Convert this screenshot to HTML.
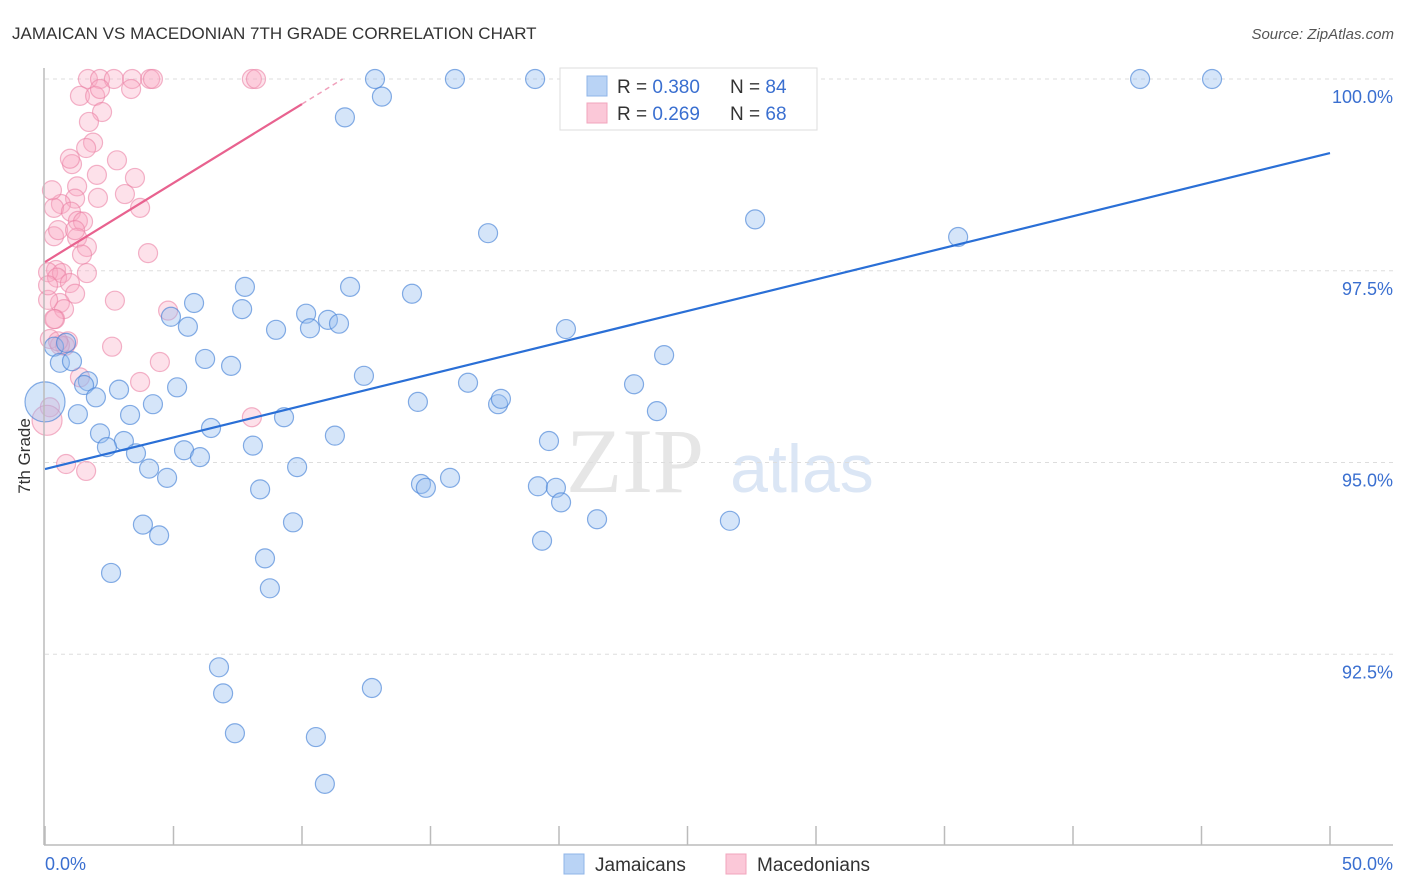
<!DOCTYPE html>
<html><head><meta charset="utf-8"><style>
body{margin:0;background:#fff;font-family:"Liberation Sans",sans-serif}
svg{display:block}
</style></head><body>
<svg id="c" width="1406" height="892">
<text x="12" y="39" font-size="17" fill="#333">JAMAICAN VS MACEDONIAN 7TH GRADE CORRELATION CHART</text>
<text x="1394" y="39" font-size="15" fill="#555" font-style="italic" text-anchor="end">Source: ZipAtlas.com</text>
<text x="30" y="456" font-size="17" fill="#333" text-anchor="middle" transform="rotate(-90 30 456)">7th Grade</text>
<text x="635" y="492" font-size="92" fill="#e6e6e6" font-family="Liberation Serif" text-anchor="middle">ZIP</text>
<text x="802" y="492" font-size="68" fill="#dbe6f5" text-anchor="middle">atlas</text>
<g id="grid"></g><g id="marks"></g><g id="axes"></g>
<g>
<rect x="560" y="68" width="257" height="62" fill="#fff" stroke="#ddd"/>
<rect x="587" y="76" width="20" height="20" fill="#b9d3f5" stroke="#8fb5e8"/>
<rect x="587" y="103" width="20" height="20" fill="#fbc8d8" stroke="#f2a5bd"/>
<text x="617" y="93" font-size="19" fill="#333">R = <tspan fill="#3a6fd0">0.380</tspan></text>
<text x="730" y="93" font-size="19" fill="#333">N = <tspan fill="#3a6fd0">84</tspan></text>
<text x="617" y="120" font-size="19" fill="#333">R = <tspan fill="#3a6fd0">0.269</tspan></text>
<text x="730" y="120" font-size="19" fill="#333">N = <tspan fill="#3a6fd0">68</tspan></text>
</g>
<g><rect x="564" y="854" width="20" height="20" fill="#b9d3f5" stroke="#8fb5e8"/><text x="595" y="871" font-size="19" fill="#333">Jamaicans</text></g>
<g><rect x="726" y="854" width="20" height="20" fill="#fbc8d8" stroke="#f2a5bd"/><text x="757" y="871" font-size="19" fill="#333">Macedonians</text></g>
</svg>
<script>
const blueX=[12.84,15.95,19.07,26.54,28.60,42.61,45.41,13.11,11.67,17.24,27.63,35.53,7.78,11.87,14.28,5.80,7.67,4.90,10.16,11.01,11.44,5.56,8.99,10.31,20.27,0.35,0.82,0.58,1.05,6.23,7.24,24.09,12.41,1.67,1.52,2.88,5.14,16.46,22.92,1.98,4.20,14.51,17.63,17.74,1.28,3.31,9.30,23.81,2.14,3.07,6.46,11.28,19.61,2.41,3.54,5.41,6.03,8.09,4.05,4.75,9.81,8.37,14.63,14.82,15.76,19.18,19.88,20.08,9.65,21.48,26.65,3.81,4.44,19.34,8.56,2.57,8.75,6.77,6.93,12.72,7.39,10.54,10.89,0];
const blueY=[100,100,100,100,100,100,100,99.77,99.50,97.99,98.17,97.94,97.29,97.29,97.20,97.08,97.00,96.90,96.94,96.86,96.81,96.77,96.73,96.75,96.74,96.51,96.56,96.30,96.32,96.35,96.26,96.40,96.13,96.06,96.01,95.95,95.98,96.04,96.02,95.85,95.76,95.79,95.76,95.83,95.63,95.62,95.59,95.67,95.38,95.28,95.45,95.35,95.28,95.20,95.12,95.16,95.07,95.22,94.92,94.80,94.94,94.65,94.72,94.67,94.80,94.69,94.67,94.48,94.22,94.26,94.24,94.19,94.05,93.98,93.75,93.56,93.36,92.33,91.99,92.06,91.47,91.42,90.81,95.79];
const pinkX=[1.67,2.14,2.68,3.39,4.09,4.20,8.05,8.21,1.36,1.95,2.14,3.35,2.22,1.71,1.05,1.87,1.60,2.80,0.97,2.02,3.50,1.25,1.17,2.06,3.11,3.70,0.62,0.35,1.01,1.28,1.48,0.35,0.51,1.25,1.63,1.44,4.01,0.43,0.12,0.66,1.63,0.47,0.97,1.17,2.72,0.58,0.74,4.79,0.39,0.19,0.89,2.61,0.78,4.47,1.36,3.70,0.19,0.08,8.05,0.82,1.60,0.12,0.12,0.58,0.27,1.17,0.35,0.51];
const pinkY=[100,100,100,100,100,100,100,100,99.78,99.78,99.87,99.87,99.57,99.44,98.89,99.17,99.10,98.94,98.96,98.75,98.71,98.60,98.44,98.45,98.50,98.32,98.37,98.32,98.27,98.15,98.14,97.95,98.03,97.93,97.81,97.71,97.73,97.51,97.48,97.47,97.47,97.41,97.34,97.20,97.11,97.08,97.00,96.98,96.87,96.61,96.58,96.51,96.52,96.31,96.11,96.05,95.72,95.55,95.59,94.98,94.89,97.12,97.31,96.53,98.55,98.03,96.87,96.58];
const yTicks=[100,97.5,95,92.5];
const yTickLabels=["100.0%","97.5%","95.0%","92.5%"];
const xTicks=[0,5,10,15,20,25,30,35,40,45,50];
const blueTrend=[[0,94.915],[50,99.035]];
const pinkTrend=[[0,97.614],[10,99.674]];
const NS="http://www.w3.org/2000/svg";
const sx=v=>45+v*25.7, sy=v=>79+(100-v)*76.7;
function mk(tag,attrs,parent){const e=document.createElementNS(NS,tag);for(const k in attrs)e.setAttribute(k,attrs[k]);document.getElementById(parent).appendChild(e);return e;}
yTicks.forEach((t,i)=>{
 const g=mk('line',{x1:45,x2:1393,y1:sy(t),y2:sy(t),stroke:'#ddd','stroke-dasharray':'4,4'},'grid');
 
 
 const l=mk('text',{x:1393,y:sy(t)+24,'font-size':18,fill:'#3a6fd0','text-anchor':'end'},'axes');
 l.textContent=yTickLabels[i];
 
 
});
const ax1=mk('line',{x1:44,x2:44,y1:68,y2:845,stroke:'#bbb','stroke-width':1.5},'axes');


const ax2=mk('line',{x1:44,x2:1393,y1:845,y2:845,stroke:'#bbb','stroke-width':1.5},'axes');


xTicks.forEach(t=>{
 const k=mk('line',{x1:sx(t),x2:sx(t),y1:826,y2:845,stroke:'#bbb','stroke-width':1.5},'axes');
 
 
});
const xl0=mk('text',{x:45,y:870,'font-size':18,fill:'#3a6fd0'},'axes');xl0.textContent='0.0%';


const xl1=mk('text',{x:1393,y:870,'font-size':18,fill:'#3a6fd0','text-anchor':'end'},'axes');xl1.textContent='50.0%';


pinkX.forEach((x,i)=>{
 const big=(i===57);
 const c=mk('circle',{cx:sx(x),cy:sy(pinkY[i]),r:big?15:9.5,fill:'rgba(248,170,195,0.35)',stroke:'rgba(235,130,165,0.6)','stroke-width':1.2},'marks');
 
 
});
blueX.forEach((x,i)=>{
 const big=(i===blueX.length-1);
 const c=mk('circle',{cx:sx(x),cy:sy(blueY[i]),r:big?20:9.5,fill:'rgba(150,190,240,0.4)',stroke:'rgba(70,130,215,0.65)','stroke-width':1.2},'marks');
 
 
});
const bt=mk('line',{x1:sx(blueTrend[0][0]),y1:sy(blueTrend[0][1]),x2:sx(blueTrend[1][0]),y2:sy(blueTrend[1][1]),stroke:'#2a6fd6','stroke-width':2.2},'marks');


const pt=mk('line',{x1:sx(pinkTrend[0][0]),y1:sy(pinkTrend[0][1]),x2:sx(pinkTrend[1][0]),y2:sy(pinkTrend[1][1]),stroke:'#e8628f','stroke-width':2.2},'marks');


const slope=(pinkTrend[1][1]-pinkTrend[0][1])/(pinkTrend[1][0]-pinkTrend[0][0]);
const xe=pinkTrend[1][0]+(100-pinkTrend[1][1])/slope;
const pd=mk('line',{x1:sx(pinkTrend[1][0]),y1:sy(pinkTrend[1][1]),x2:sx(xe),y2:sy(100),stroke:'#f0a0bb','stroke-width':1.5,'stroke-dasharray':'5,4'},'marks');


</script>
</body></html>
